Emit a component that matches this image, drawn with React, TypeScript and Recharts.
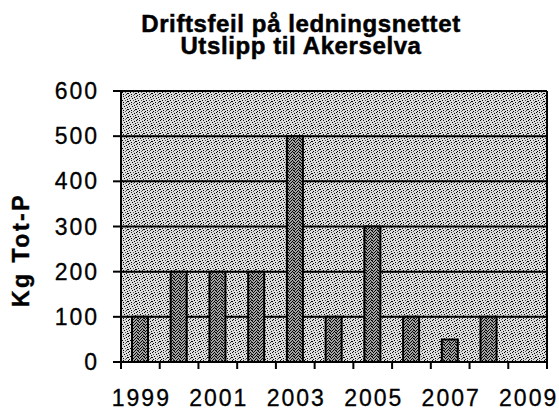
import React from 'react';
import { BarChart, Bar, XAxis, YAxis, CartesianGrid, ReferenceLine } from 'recharts';

const years = [1999, 2000, 2001, 2002, 2003, 2004, 2005, 2006, 2007, 2008];
const values = [100, 200, 200, 200, 500, 100, 300, 100, 50, 100];
const xTickYears = [1999, 2001, 2003, 2005, 2007, 2009];
const xTickBounds = [1998.5, 1999.5, 2000.5, 2001.5, 2002.5, 2003.5, 2004.5, 2005.5, 2006.5, 2007.5, 2008.5, 2009.5];
const yTicks = [0, 100, 200, 300, 400, 500, 600];
const titleLines = ['Driftsfeil på ledningsnettet', 'Utslipp til Akerselva'];
const yLabel = 'Kg Tot-P';

const data = years.map((year, i) => ({ year, value: values[i] }));
const allXTicks = [...xTickBounds, ...xTickYears].sort((a, b) => a - b);

const FONT = '"Liberation Sans", Arial, Helvetica, sans-serif';

// stipple pattern dot layouts (style only)
const bgDots: [number, number, string][] = [
  [0, 0, '#000'], [3, 0, '#222'], [6, 1, '#000'], [1, 2, '#444'], [4, 2, '#000'],
  [7, 3, '#111'], [2, 4, '#000'], [5, 4, '#555'], [0, 5, '#000'], [3, 6, '#000'],
  [6, 6, '#333'], [1, 7, '#000'], [5, 7, '#666'], [7, 5, '#000'],
];
const barDots: [number, number, string][] = [
  [0, 0, '#000'], [2, 0, '#000'], [5, 0, '#222'], [1, 1, '#000'], [4, 1, '#000'],
  [0, 2, '#333'], [3, 2, '#000'], [5, 2, '#000'], [0, 3, '#000'], [2, 3, '#111'],
  [1, 4, '#000'], [4, 4, '#000'], [3, 5, '#000'], [5, 5, '#222'],
];

const XTick = (props: any) => {
  const { x, y, payload } = props;
  const v = payload.value;
  if (!Number.isInteger(v)) {
    return <line x1={x} x2={x} y1={y - 1} y2={y + 7} stroke="#000" strokeWidth={2} />;
  }
  return (
    <text x={x + 1} y={y + 44} textAnchor="middle" fontSize={23} fontFamily={FONT} letterSpacing={2} fill="#000" stroke="#000" strokeWidth={0.3}>
      {v}
    </text>
  );
};

const YTick = (props: any) => {
  const { x, y, payload } = props;
  return (
    <text x={x} y={y + 8} textAnchor="end" fontSize={23} fontFamily={FONT} letterSpacing={2} fill="#000" stroke="#000" strokeWidth={0.3}>
      {payload.value}
    </text>
  );
};

export default function App() {
  return (
    <div style={{ position: 'absolute', left: 0, top: 0, background: '#fff' }}>
      <BarChart
        width={559}
        height={410}
        data={data}
        margin={{ top: 91, right: 12, bottom: 8, left: 61 }}
      >
        <defs>
          <pattern id="bgPat" width="8" height="8" patternUnits="userSpaceOnUse">
            <rect width="8" height="8" fill="#dcdcdc" />
            {bgDots.map(([dx, dy, c], i) => (
              <rect key={i} x={dx} y={dy} width="1" height="1" fill={c} />
            ))}
          </pattern>
          <pattern id="barPat" width="6" height="6" patternUnits="userSpaceOnUse">
            <rect width="6" height="6" fill="#a4a4a4" />
            {barDots.map(([dx, dy, c], i) => (
              <rect key={i} x={dx} y={dy} width="1" height="1" fill={c} />
            ))}
          </pattern>
        </defs>
        <text textAnchor="middle" fontSize={24} fontWeight="bold" fontFamily={FONT} letterSpacing={0.6} fill="#000" stroke="#000" strokeWidth={0.5}>
          <tspan x={301} y={32}>{titleLines[0]}</tspan>
          <tspan x={301} y={54}>{titleLines[1]}</tspan>
        </text>
        <text
          transform="rotate(-90)"
          x={-250}
          y={29}
          textAnchor="middle"
          fontSize={23}
          fontWeight="bold"
          fontFamily={FONT}
          letterSpacing={2.5}
          fill="#000"
          stroke="#000"
          strokeWidth={0.4}
        >
          {yLabel}
        </text>
        <CartesianGrid
          vertical={false}
          stroke="#000"
          strokeWidth={2}
          fill="url(#bgPat)"
          fillOpacity={1}
        />
        <XAxis
          dataKey="year"
          type="number"
          domain={[1998.5, 2009.5]}
          ticks={allXTicks}
          interval={0}
          tick={<XTick />}
          tickLine={false}
          tickSize={0}
          tickMargin={0}
          axisLine={{ stroke: '#000', strokeWidth: 2 }}
          height={40}
        />
        <YAxis
          domain={[0, 600]}
          ticks={yTicks}
          interval={0}
          tick={<YTick />}
          tickSize={8}
          tickMargin={14}
          tickLine={{ stroke: '#000', strokeWidth: 2 }}
          axisLine={{ stroke: '#000', strokeWidth: 2 }}
          width={60}
        />
        <ReferenceLine x={2009.5} stroke="#000" strokeWidth={2} />
        <Bar
          dataKey="value"
          barSize={16}
          fill="url(#barPat)"
          stroke="#000"
          strokeWidth={2}
          isAnimationActive={false}
        />
      </BarChart>
    </div>
  );
}
